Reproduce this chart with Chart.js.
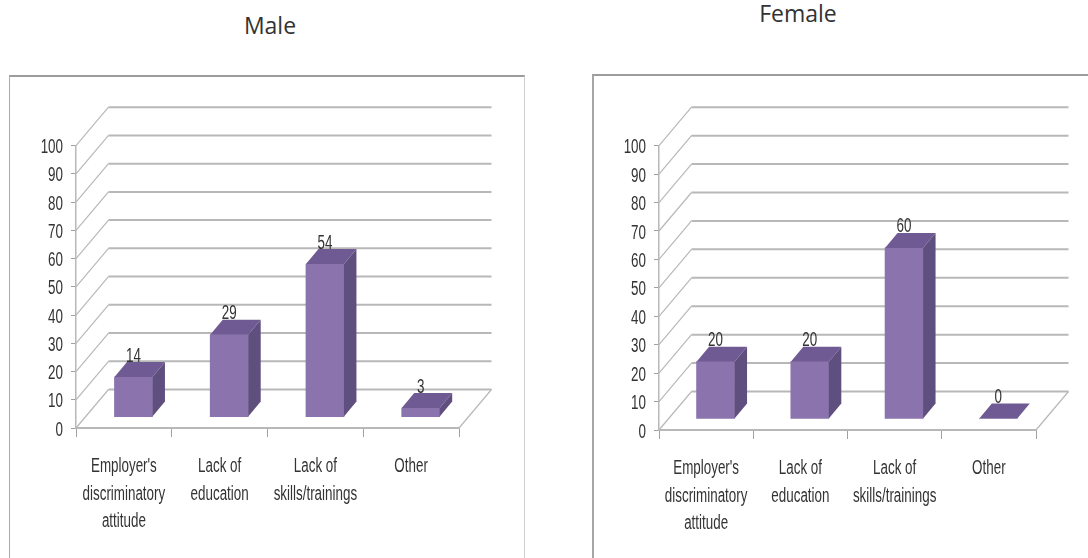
<!DOCTYPE html>
<html>
<head>
<meta charset="utf-8">
<title>Barriers to employment by gender</title>
<script src="https://cdn.jsdelivr.net/npm/chart.js@4/dist/chart.umd.min.js"></script>
<style>
  html, body { margin: 0; padding: 0; background: #fff; }
  #page { position: relative; width: 1088px; height: 558px; overflow: hidden; }
  .panel { position: absolute; box-sizing: border-box; bottom: -4px; }
  #malePanel { left: 9px; top: 75px; width: 516px; border-top: 2px solid #9c9c9c; border-left: 1px solid #ababab; border-right: 1px solid #cfcfcf; }
  #femalePanel { left: 592px; top: 74px; right: -4px; border-top: 2px solid #9c9c9c; border-left: 2px solid #a6a6a6; }
  canvas { position: absolute; top: 0; }
  #maleChart { left: 0; }
  #femaleChart { left: 508px; }
  .heading { position: absolute; width: 200px; text-align: center; font: 400 23px/28px "Open Sans", sans-serif; color: #333; }
  #maleHeading { left: 170px; top: 11px; }
  #femaleHeading { left: 698px; top: -1px; }
</style>
</head>
<body>
<div id="page">
  <div class="panel" id="malePanel"></div>
  <div class="panel" id="femalePanel"></div>
  <div class="heading" id="maleHeading">Male</div>
  <div class="heading" id="femaleHeading">Female</div>
  <canvas id="maleChart" width="540" height="558"></canvas>
  <canvas id="femaleChart" width="580" height="558"></canvas>
</div>
<script>
// Survey answers: one chart per gender, values in percent
const categories = [
  ["Employer's", "discriminatory", "attitude"],
  ["Lack of", "education"],
  ["Lack of", "skills/trainings"],
  ["Other"]
];
const maleValues = [14, 29, 54, 3];
const femaleValues = [20, 20, 60, 0];
const positions = [0, 1, 2, 3];

const AXIS_FONT = '"Liberation Sans", sans-serif';
const AXIS_SIZE = 20;
const TEXT_SQUEEZE = 0.67;              // labels are set narrow and tall
const TEXT = '#333333';
const FRONT = '#8b73ad';
const TOP_FACE = '#705a93';
const SIDE_FACE = '#5f4f7e';
const GRID = '#b8b8b8';
const WALL_DX = 32.5, WALL_DY = 38.5;   // depth of the chart box
const BAR_DX = 12.5, BAR_DY = 15;       // depth of one column
const FLOOR_LIFT = 4.05;                // columns stand this many units above the front edge
const COLUMN_SHIFT = 0.1;               // and this share of a category to the right

// Every label on these canvases is squeezed horizontally around its anchor
function condenseText(canvas) {
  const ctx = canvas.getContext('2d');
  const fillText = ctx.fillText;
  ctx.fillText = function (text, x, y, maxWidth) {
    this.save();
    this.translate(x, y);
    this.scale(TEXT_SQUEEZE, 1);
    fillText.call(this, text, 0, 0);
    this.restore();
  };
}

// Back wall, side wall and floor of the 3D box
const boxWalls = {
  id: 'boxWalls',
  beforeDatasetsDraw(chart) {
    const { ctx, chartArea: a } = chart;
    const y = chart.scales.y;
    ctx.save();
    ctx.strokeStyle = GRID;
    y.ticks.forEach(t => {
      const py = y.getPixelForValue(t.value);
      ctx.lineWidth = 1.2;
      ctx.beginPath();
      ctx.moveTo(a.left, py);
      ctx.lineTo(a.left + WALL_DX, py - WALL_DY);
      ctx.stroke();
      ctx.lineWidth = 2;
      ctx.beginPath();
      ctx.moveTo(a.left + WALL_DX, py - WALL_DY);
      ctx.lineTo(a.right + WALL_DX, py - WALL_DY);
      ctx.stroke();
    });
    const py0 = y.getPixelForValue(0);
    ctx.lineWidth = 1.2;
    ctx.beginPath();
    ctx.moveTo(a.right, py0);
    ctx.lineTo(a.right + WALL_DX, py0 - WALL_DY);
    ctx.stroke();
    ctx.restore();
  }
};

// Top and side faces of each column, plus the value above it
const columnFaces = {
  id: 'columnFaces',
  afterDatasetsDraw(chart) {
    const { ctx } = chart;
    const values = chart.data.datasets[0].data;
    chart.getDatasetMeta(0).data.forEach((bar, i) => {
      const { x, y, base, width } = bar.getProps(['x', 'y', 'base', 'width'], true);
      const l = x - width / 2, r = x + width / 2;
      ctx.save();
      ctx.fillStyle = TOP_FACE;
      ctx.beginPath();
      ctx.moveTo(l, y);
      ctx.lineTo(l + BAR_DX, y - BAR_DY);
      ctx.lineTo(r + BAR_DX, y - BAR_DY);
      ctx.lineTo(r, y);
      ctx.closePath();
      ctx.fill();
      ctx.fillStyle = SIDE_FACE;
      ctx.beginPath();
      ctx.moveTo(r, y);
      ctx.lineTo(r + BAR_DX, y - BAR_DY);
      ctx.lineTo(r + BAR_DX, base - BAR_DY);
      ctx.lineTo(r, base);
      ctx.closePath();
      ctx.fill();
      ctx.fillStyle = TEXT;
      ctx.font = AXIS_SIZE + 'px ' + AXIS_FONT;
      ctx.textAlign = 'center';
      ctx.textBaseline = 'middle';
      ctx.fillText(String(values[i].y), x, y - 21);
      ctx.restore();
    });
  }
};

function makeChart(id, values, axisLeft, axisBottom, rightPad) {
  const canvas = document.getElementById(id);
  condenseText(canvas);
  return new Chart(canvas, {
    type: 'bar',
    data: {
      labels: categories,
      datasets: [{
        data: values.map((v, i) => ({ x: positions[i], y: v })),
        xAxisID: 'xColumns',
        yAxisID: 'yColumns',
        backgroundColor: FRONT,
        borderWidth: 0,
        barThickness: 38
      }]
    },
    options: {
      responsive: false,
      animation: false,
      layout: { padding: { left: 0, right: rightPad, top: 145.7, bottom: 0 } },
      plugins: {
        legend: { display: false },
        tooltip: { enabled: false },
        title: { display: false }
      },
      scales: {
        x: {
          type: 'category',
          offset: true,
          grid: { offset: true, drawOnChartArea: false, color: '#a0a0a0', tickLength: 9 },
          border: { color: GRID, width: 2 },
          ticks: {
            color: TEXT, padding: 16, maxRotation: 0, autoSkip: false,
            font: { family: AXIS_FONT, size: AXIS_SIZE, lineHeight: 1.375 }
          },
          afterFit: s => { s.height = 558 - axisBottom; }
        },
        y: {
          type: 'linear',
          min: 0,
          max: 100,
          grid: { drawOnChartArea: false, color: '#a0a0a0', tickLength: 5 },
          border: { color: GRID, width: 1.5 },
          ticks: {
            color: TEXT, padding: 8, stepSize: 10, labelOffset: 2,
            font: { family: AXIS_FONT, size: AXIS_SIZE }
          },
          afterFit: s => { s.width = axisLeft; }
        },
        // Hidden scales that set the columns back from the front edge of the floor
        xColumns: {
          type: 'linear', axis: 'x', display: false, offset: false,
          min: -0.5 - COLUMN_SHIFT, max: 3.5 - COLUMN_SHIFT
        },
        yColumns: {
          type: 'linear', axis: 'y', display: false,
          min: -FLOOR_LIFT, max: 100 - FLOOR_LIFT
        }
      }
    },
    plugins: [boxWalls, columnFaces]
  });
}

makeChart('maleChart', maleValues, 76, 428, 540 - 459);
makeChart('femaleChart', femaleValues, 659 - 508, 430, 580 - (1036 - 508));
</script>
</body>
</html>
